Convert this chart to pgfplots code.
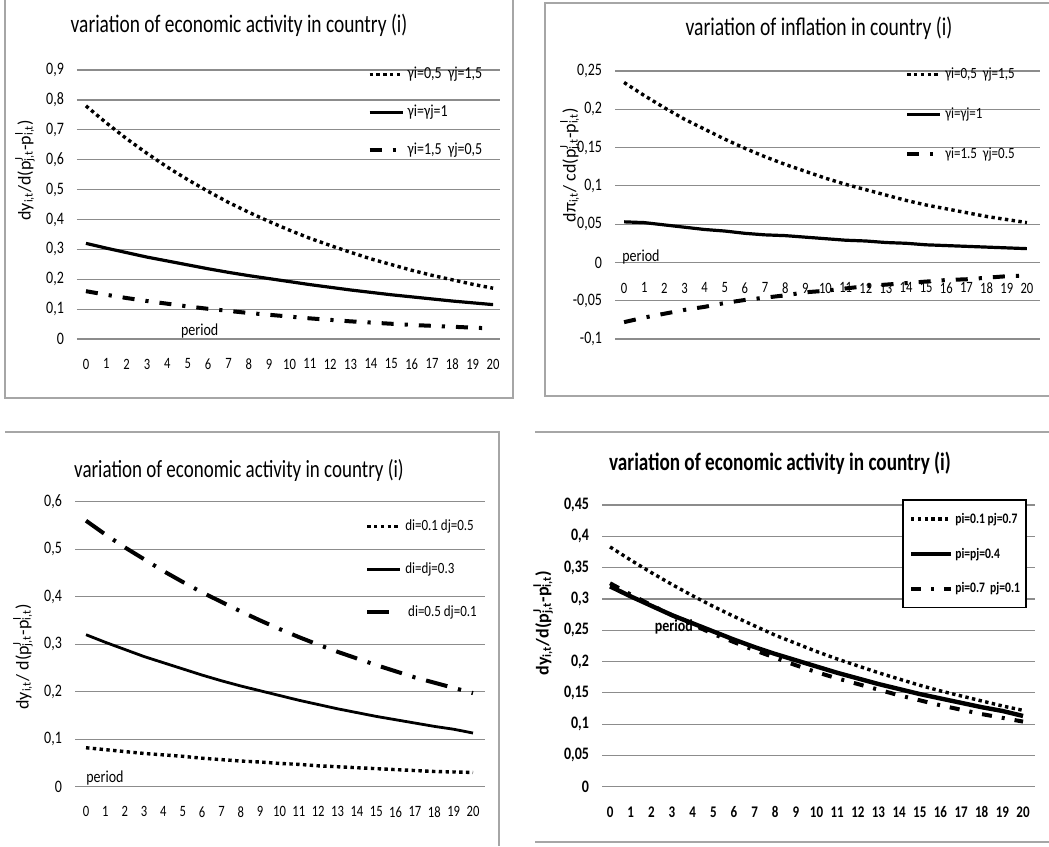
\documentclass[border=0pt]{standalone}
\usepackage{pgfplots}
\pgfplotsset{compat=1.18}
\usepackage{pgfplotstable}
\usepackage{fontspec}
\setmainfont{Carlito}[Numbers=Lining]
\newcommand\sbsp[2]{\rlap{\textsuperscript{#2}}\textsubscript{#1}}

\pgfplotstableread{
x a b c
0 0.780 0.320 0.160
1 0.723 0.304 0.148
2 0.670 0.289 0.137
3 0.621 0.274 0.127
4 0.575 0.261 0.118
5 0.533 0.248 0.109
6 0.494 0.235 0.101
7 0.457 0.223 0.094
8 0.424 0.212 0.087
9 0.393 0.202 0.081
10 0.364 0.192 0.075
11 0.337 0.182 0.069
12 0.313 0.173 0.064
13 0.290 0.164 0.059
14 0.268 0.156 0.055
15 0.249 0.148 0.051
16 0.230 0.141 0.047
17 0.213 0.134 0.044
18 0.198 0.127 0.041
19 0.183 0.121 0.038
20 0.170 0.115 0.035
}\tA

\pgfplotstableread{
x a b c
0 0.235 0.053 -0.078
1 0.218 0.052 -0.072
2 0.202 0.049 -0.067
3 0.187 0.046 -0.062
4 0.174 0.043 -0.058
5 0.161 0.041 -0.053
6 0.149 0.038 -0.049
7 0.138 0.036 -0.046
8 0.128 0.035 -0.043
9 0.119 0.033 -0.039
10 0.110 0.031 -0.037
11 0.102 0.029 -0.034
12 0.095 0.028 -0.031
13 0.088 0.026 -0.029
14 0.081 0.025 -0.027
15 0.075 0.023 -0.025
16 0.070 0.022 -0.023
17 0.065 0.021 -0.022
18 0.060 0.020 -0.020
19 0.056 0.019 -0.018
20 0.052 0.018 -0.017
}\tB

\pgfplotstableread{
x a b c
0 0.082 0.320 0.560
1 0.078 0.304 0.531
2 0.074 0.289 0.504
3 0.070 0.274 0.479
4 0.067 0.261 0.454
5 0.064 0.248 0.431
6 0.060 0.235 0.409
7 0.057 0.223 0.389
8 0.054 0.212 0.369
9 0.052 0.202 0.350
10 0.049 0.192 0.332
11 0.047 0.182 0.315
12 0.044 0.173 0.299
13 0.042 0.164 0.284
14 0.040 0.156 0.270
15 0.038 0.148 0.256
16 0.036 0.141 0.243
17 0.034 0.134 0.230
18 0.032 0.127 0.219
19 0.031 0.121 0.208
20 0.030 0.113 0.197
}\tC

\pgfplotstableread{
x a b c
0 0.383 0.320 0.325
1 0.362 0.304 0.307
2 0.342 0.289 0.290
3 0.323 0.274 0.274
4 0.305 0.261 0.259
5 0.288 0.248 0.244
6 0.272 0.235 0.231
7 0.257 0.223 0.218
8 0.242 0.212 0.206
9 0.229 0.202 0.194
10 0.216 0.192 0.183
11 0.204 0.182 0.173
12 0.193 0.173 0.164
13 0.182 0.164 0.155
14 0.172 0.156 0.146
15 0.162 0.148 0.138
16 0.153 0.141 0.130
17 0.145 0.134 0.123
18 0.137 0.127 0.116
19 0.129 0.121 0.110
20 0.122 0.113 0.104
}\tD

\tikzset{
 dotsty/.style={black, line width=1.7pt, dash pattern=on 1.7pt off 1.7pt},
 solsty/.style={black, line width=1.6pt},
 dd1/.style={black, line width=2pt, dash pattern=on 6pt off 5.5pt on 1.6pt off 5.5pt},
 dd3/.style={black, line width=2pt, dash pattern=on 11pt off 5.5pt on 1.6pt off 5.5pt},
 dd4/.style={black, line width=2pt, dash pattern=on 5pt off 5pt on 1.5pt off 5pt},
}

\pgfplotsset{
 panel/.style={
  scale only axis, anchor=south west, clip=false,
  axis line style={draw=none}, tick style={draw=none},
  ymajorgrids, grid style={black!45, line width=0.6pt},
  xtick={0,...,20},
  /pgf/number format/use comma, /pgf/number format/fixed,
  /pgf/number format/assume math mode=true,
  x tick label style={font=\fontsize{6.3}{7}\selectfont, yscale=1.25, yshift=-4.4pt},
  y tick label style={font=\fontsize{7}{8}\selectfont, yscale=1.25, xshift=-3pt},
  legend cell align=left,
  legend image code/.code={\draw[##1] (0pt,0pt) -- (16.5pt,0pt);},
  xlabel style={anchor=center, font=\fontsize{7}{8}\selectfont, yscale=1.2},
  ylabel style={anchor=center, font=\fontsize{9}{10}\selectfont},
  every axis plot/.append style={no markers},
 },
 leg/.style={legend style={anchor=north west, draw=none, fill=none, inner sep=0pt,
   nodes={inner sep=0pt, text height=5pt, text depth=1.5pt, yscale=1.2}, column sep=1.5pt}},
}

\begin{document}
\begin{tikzpicture}
\path[use as bounding box] (0,0) rectangle (524.5pt,423pt);
% frames
\draw[black!35, line width=0.8pt] (2.5pt,423pt) -- (2.5pt,224pt) -- (256.5pt,224pt) -- (256.5pt,423pt);
\draw[black!35, line width=0.8pt] (524.5pt,421.5pt) -- (272.5pt,421.5pt) -- (272.5pt,225pt) -- (524.5pt,225pt);
\draw[black!35, line width=0.8pt] (2.5pt,207pt) -- (249.5pt,207pt) -- (249.5pt,0pt);
\draw[black!35, line width=0.8pt] (267.5pt,207pt) -- (524.5pt,207pt);
\draw[black!35, line width=0.8pt] (267.5pt,2pt) -- (524.5pt,2pt);
% titles
\node[font=\fontsize{9.7}{11}\selectfont, yscale=1.3] at (119.5pt,410.5pt) {variation of economic activity in country (i)};
\node[font=\fontsize{9.8}{11}\selectfont, yscale=1.3] at (409.5pt,409pt) {variation of inflation in country (i)};
\node[font=\fontsize{9.5}{11}\selectfont, yscale=1.3] at (119.5pt,188pt) {variation of economic activity in country (i)};
\node[font=\bfseries\fontsize{9.6}{11}\selectfont, yscale=1.3] at (390pt,191.5pt) {variation of economic activity in country (i)};

% Panel 1
\begin{axis}[panel, leg, at={(38.5pt,253.5pt)}, width=211.5pt, height=134.5pt,
  xmin=-0.44, xmax=20.34, ymin=0, ymax=0.9,
  ytick={0,0.1,0.2,0.3,0.4,0.5,0.6,0.7,0.8,0.9},
  xlabel={period}, xlabel style={at={(axis description cs:0.29,0.03)}},
  ylabel={dy\textsubscript{i,t}/d(p\sbsp{j,t}{J}-p\sbsp{i,t}{I})},
  ylabel style={at={(axis description cs:-0.123,0.628)}},
  legend style={at={(axis description cs:0.686,1.013)}, row sep=11pt, font=\fontsize{7}{8}\selectfont}]
\addplot[dotsty] table[x=x,y=a]{\tA};
\addlegendentry{γi=0,5\ \ γj=1,5}
\addplot[solsty] table[x=x,y=b]{\tA};
\addlegendentry{γi=γj=1}
\addplot[dd1] table[x=x,y=c]{\tA};
\addlegendentry{γi=1,5\ \ γj=0,5}
\end{axis}

% Panel 2
\begin{axis}[panel, leg, at={(307.5pt,253.5pt)}, width=212.5pt, height=134pt,
  xmin=-0.45, xmax=20.65, ymin=-0.1, ymax=0.25,
  ytick={-0.1,-0.05,0,0.05,0.1,0.15,0.2,0.25},
  x tick label style={yshift=30.4pt},
  xlabel={period}, xlabel style={at={(axis description cs:0.061,0.306)}},
  ylabel={dπ\textsubscript{i,t}/ cd(p\sbsp{j,t}{J}-p\sbsp{i,t}{I})},
  ylabel style={at={(axis description cs:-0.106,0.649)}},
  legend style={at={(axis description cs:0.682,1.017)}, row sep=12pt, font=\fontsize{6.5}{8}\selectfont}]
\addplot[dotsty] table[x=x,y=a]{\tB};
\addlegendentry{γi=0,5\ \ γj=1,5}
\addplot[solsty] table[x=x,y=b]{\tB};
\addlegendentry{γi=γj=1}
\addplot[dd1] table[x=x,y=c]{\tB};
\addlegendentry{γi=1.5\ \ γj=0.5}
\end{axis}

% Panel 3
\begin{axis}[panel, leg, at={(37.5pt,29.65pt)}, width=205pt, height=142.5pt,
  xmin=-0.57, xmax=20.62, ymin=0, ymax=0.6,
  ytick={0,0.1,0.2,0.3,0.4,0.5,0.6},
  xlabel={period}, xlabel style={at={(axis description cs:0.073,0.03)}},
  ylabel={dy\textsubscript{i,t}/ d(p\sbsp{j,t}{J}-p\sbsp{i,t}{I})},
  ylabel style={at={(axis description cs:-0.127,0.455)}},
  legend style={at={(axis description cs:0.707,0.941)}, row sep=13.5pt, font=\fontsize{6.5}{8}\selectfont}]
\addplot[dotsty] table[x=x,y=a]{\tC};
\addlegendentry{di=0.1 dj=0.5}
\addplot[solsty, line width=1.4pt] table[x=x,y=b]{\tC};
\addlegendentry{di=dj=0.3}
\addplot[dd3, legend image code/.code={\draw[black, line width=2pt] (0pt,0pt) -- (13.5pt,0pt); \path (0pt,0pt) -- (16.5pt,0pt);}] table[x=x,y=c]{\tC};
\addlegendentry{\ di=0.5 dj=0.1}
\end{axis}

% Panel 4
\begin{axis}[panel, at={(301pt,29.65pt)}, width=216.5pt, height=140.85pt,
  xmin=-0.39, xmax=20.58, ymin=0, ymax=0.45,
  ytick={0,0.05,0.1,0.15,0.2,0.25,0.3,0.35,0.4,0.45},
  x tick label style={font=\bfseries\fontsize{6.5}{7}\selectfont},
  y tick label style={font=\bfseries\fontsize{7}{8}\selectfont},
  xlabel={period}, xlabel style={at={(axis description cs:0.166,0.567)}, font=\bfseries\fontsize{7}{8}\selectfont},
  ylabel={dy\textsubscript{i,t}/d(p\sbsp{j,t}{J}-p\sbsp{i,t}{I})},
  ylabel style={at={(axis description cs:-0.136,0.581)}, font=\bfseries\fontsize{9}{10}\selectfont},
  legend image code/.code={\draw[#1] (0pt,0pt) -- (20pt,0pt);},
  legend style={at={(axis description cs:0.693,1.021)}, anchor=north west, draw=black, line width=0.8pt, fill=white,
   inner xsep=3pt, inner ysep=5.5pt, row sep=9.25pt, column sep=1pt,
   nodes={inner sep=0pt, text height=5pt, text depth=1.5pt, yscale=1.25},
   font=\bfseries\fontsize{5.8}{7}\selectfont}]
\addplot[dotsty] table[x=x,y=a]{\tD};
\addlegendentry{pi=0.1 pj=0.7}
\addplot[solsty, line width=2.2pt] table[x=x,y=b]{\tD};
\addlegendentry{pi=pj=0.4}
\addplot[dd4] table[x=x,y=c]{\tD};
\addlegendentry{pi=0.7\ \ pj=0.1}
\end{axis}
\end{tikzpicture}
\end{document}
